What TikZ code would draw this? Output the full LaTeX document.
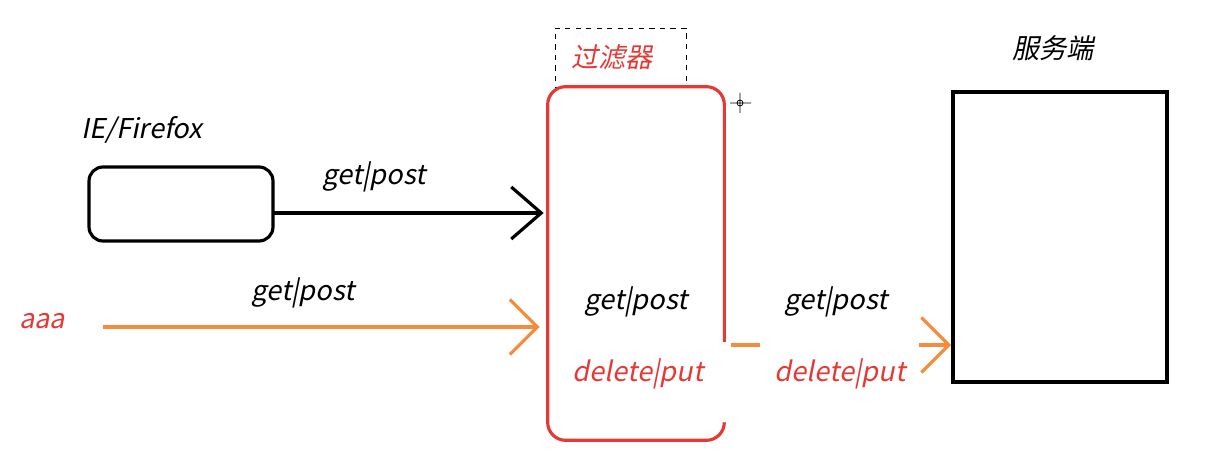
\documentclass[tikz,border=0pt]{standalone}
\usepackage{fontspec}
\setmainfont{Noto Sans CJK SC}[FakeSlant=0.2]
\usetikzlibrary{arrows.meta}
\definecolor{filterred}{RGB}{229,57,53}
\definecolor{reqorange}{RGB}{246,139,60}
\begin{document}
\begin{tikzpicture}
[
 x=0.02cm, y=-0.02cm,
 inner sep=0.5mm,
 every node/.style ={font=\fontsize{15.5}{18}\selectfont},
 BROWSER/.style={rectangle, draw=black, line width=1.8pt, rounded corners=0.28cm,
                 minimum width=3.68cm, minimum height=1.48cm},
 FILTER/.style={rectangle, minimum width=3.52cm, minimum height=7.06cm},
 SERVER/.style={rectangle, draw=black, line width=2.2pt, minimum width=4.28cm, minimum height=5.8cm},
 TAG/.style={rectangle, draw=black, dashed, thin, minimum width=2.62cm, minimum height=1.18cm},
 REDTXT/.style={text=filterred},
 BLACKARROW/.style={draw=black, line width=1.8pt, -{Straight Barb[length=6mm, width=10.4mm]}},
 ORANGELINE/.style={draw=reqorange, line width=1.8pt},
 ORANGEARROW/.style={ORANGELINE, -{Straight Barb[length=5.5mm, width=11mm]}},
 ]
\useasboundingbox (0,0) rectangle (1207,462);
%
\node [BROWSER]  (B)   at (181,204)    {};
\node [FILTER]   (F)   at (636,263.5)  {};
\node [SERVER]   (S)   at (1060,237)   {};
\node [TAG]      (D)   at (620.5,57.5) {};
%
\node            (BL)  at (142,130)  {IE/Firefox};
\node [REDTXT]   (DL)  at (612,57)   {过滤器};
\node            (SL)  at (1053,48)  {服务端};
\node [REDTXT]   (A)   at (42,321)   {aaa};
%
\node            (G1)  at (374,177)  {get|post};
\node            (G2)  at (303,293)  {get|post};
\node            (G3)  at (636,302)  {get|post};
\node [REDTXT]   (P3)  at (638,374)  {delete|put};
\node            (G4)  at (836,302)  {get|post};
\node [REDTXT]   (P4)  at (840,374)  {delete|put};
%
% filter outline, open on the right where the request leaves
\draw [filterred, line width=1.8pt, rounded corners=0.36cm]
      ([yshift=-1.57cm]F.east) -- (F.north east) -- (F.north west)
      -- (F.south west) -- (F.south east) -- ([yshift=0.36cm]F.south east);
%
\coordinate (BS) at (273,213);
\coordinate (AS) at (103,327);
\coordinate (M1) at (760,345);
\coordinate (M2) at (919,345);
%
\draw [BLACKARROW]  (BS)      -- ([xshift=-0.08cm]BS -| F.west) ;
\draw [ORANGEARROW] (AS)      -- ([xshift=-0.16cm]AS -| F.west) ;
\draw [ORANGELINE, shorten <=0.14cm]  (M1 -| F.east) -- (M1) ;
\draw [ORANGEARROW] (M2)      -- (M2 -| S.west) ;
%
% cursor
\draw [black, thin] (730,103) -- (751,103) (740,93) -- (740,113) (740,103) circle (3);
%
\end{tikzpicture}
\end{document}
